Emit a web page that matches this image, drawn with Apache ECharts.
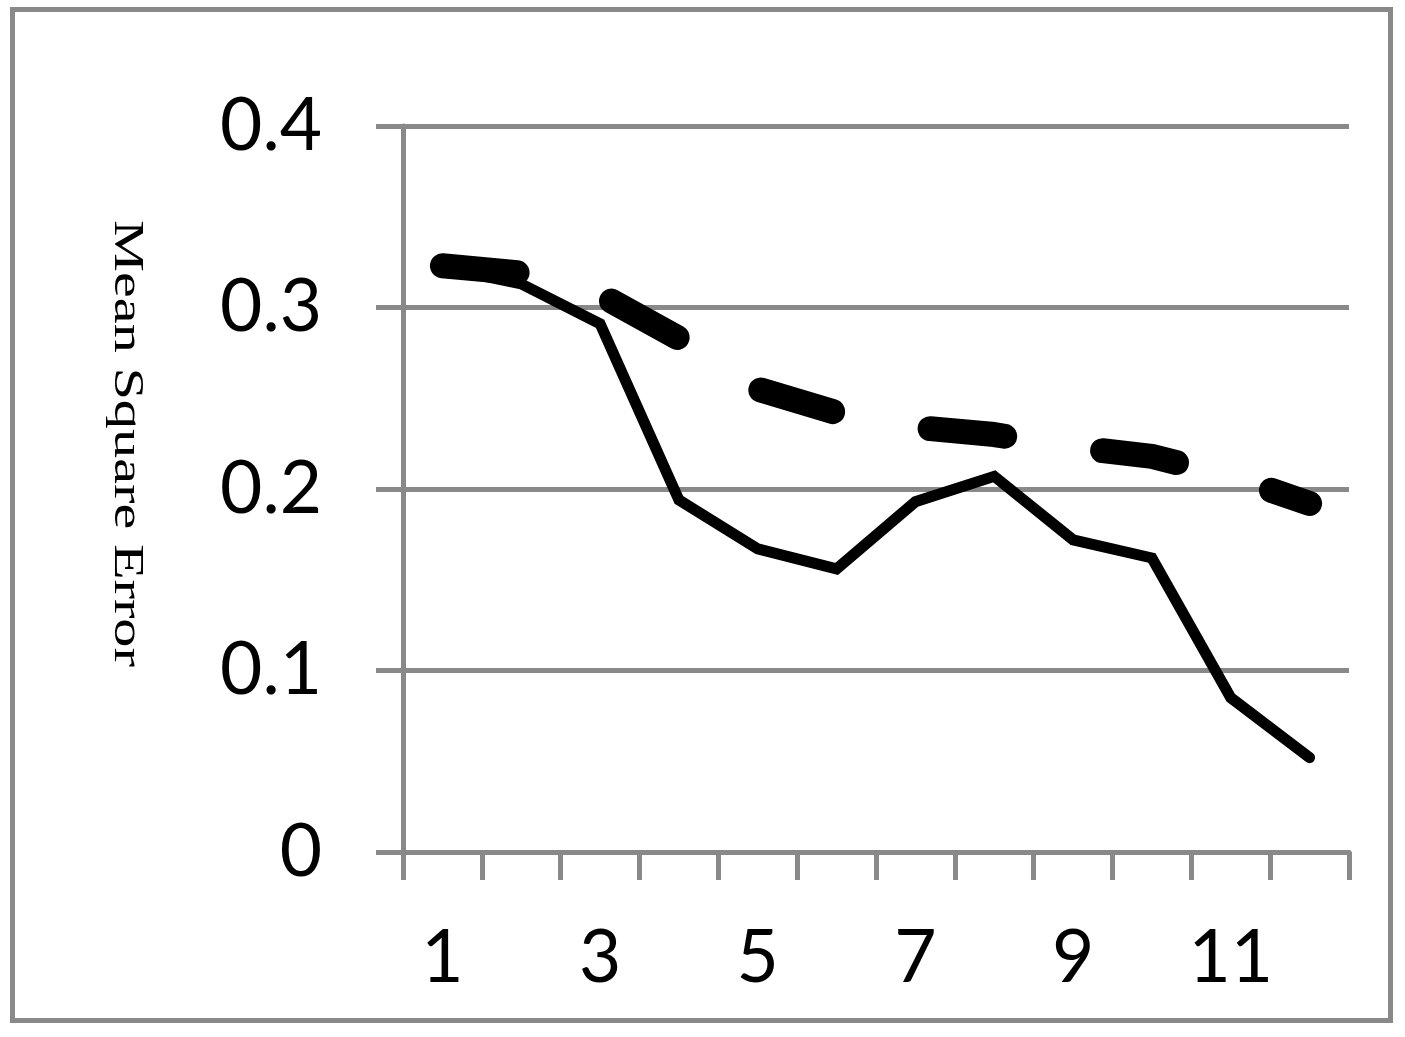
<!DOCTYPE html>
<html>
<head>
<meta charset="utf-8">
<script src="https://cdn.jsdelivr.net/npm/echarts@6/dist/echarts.min.js"></script>
<style>
html,body{margin:0;padding:0;background:#fff;}
#chart{width:1405px;height:1037px;}
</style>
</head>
<body>
<div id="chart"></div>
<script>
var categories = ['1','2','3','4','5','6','7','8','9','10','11','12'];
var solidValues = [0.322, 0.313, 0.291, 0.194, 0.167, 0.156, 0.193, 0.207, 0.172, 0.162, 0.085, 0.052];
var dashedValues = [0.323, 0.319, 0.307, 0.283, 0.255, 0.242, 0.234, 0.230, 0.223, 0.218, 0.207, 0.192];
var yTicks = {min: 0, max: 0.4, interval: 0.1};
var yTitle = 'Mean Square Error';

var gray = '#898989';
var chart = echarts.init(document.getElementById('chart'));
chart.setOption({
  animation: false,
  backgroundColor: '#fff',
  grid: {left: 403, right: 56, top: 126, bottom: 185, outerBoundsMode: 'none'},
  xAxis: {
    type: 'category',
    data: categories,
    boundaryGap: true,
    axisLine: {show: true, lineStyle: {color: gray, width: 5}},
    axisTick: {show: true, interval: 0, length: 28, alignWithLabel: false, lineStyle: {color: gray, width: 5}},
    axisLabel: {interval: 1, margin: 70, color: '#000', fontSize: 73, fontFamily: 'Lato'},
    splitLine: {show: false}
  },
  yAxis: {
    type: 'value',
    min: yTicks.min, max: yTicks.max, interval: yTicks.interval,
    axisLine: {show: true, lineStyle: {color: gray, width: 5}},
    axisTick: {show: true, length: 27, lineStyle: {color: gray, width: 5}},
    axisLabel: {margin: 81, color: '#000', fontSize: 73, fontFamily: 'Lato',
      formatter: function (v) { return v === 0 ? '0' : v.toFixed(1); }},
    splitLine: {show: true, lineStyle: {color: gray, width: 5}}
  },
  graphic: [
    {type: 'rect', silent: true, shape: {x: 12.5, y: 9.5, width: 1378, height: 1011},
      style: {fill: 'none', stroke: gray, lineWidth: 5}},
    {type: 'text', x: 126, y: 443.5, rotation: -Math.PI / 2, scaleX: 1.356, scaleY: 1,
      style: {text: yTitle, fontSize: 43, fontFamily: 'Liberation Serif', fill: '#000',
        align: 'center', verticalAlign: 'middle', textAlign: 'center', textVerticalAlign: 'middle'}}
  ],
  series: [
    {type: 'line', data: solidValues, showSymbol: false, symbol: 'none',
      lineStyle: {color: '#000', width: 11, cap: 'round', join: 'miter'}, z: 2},
    {type: 'line', data: dashedValues, showSymbol: false, symbol: 'none',
      lineStyle: {color: '#000', width: 25, type: [75, 99], cap: 'round', join: 'round'}, z: 3}
  ]
});
</script>
</body>
</html>
